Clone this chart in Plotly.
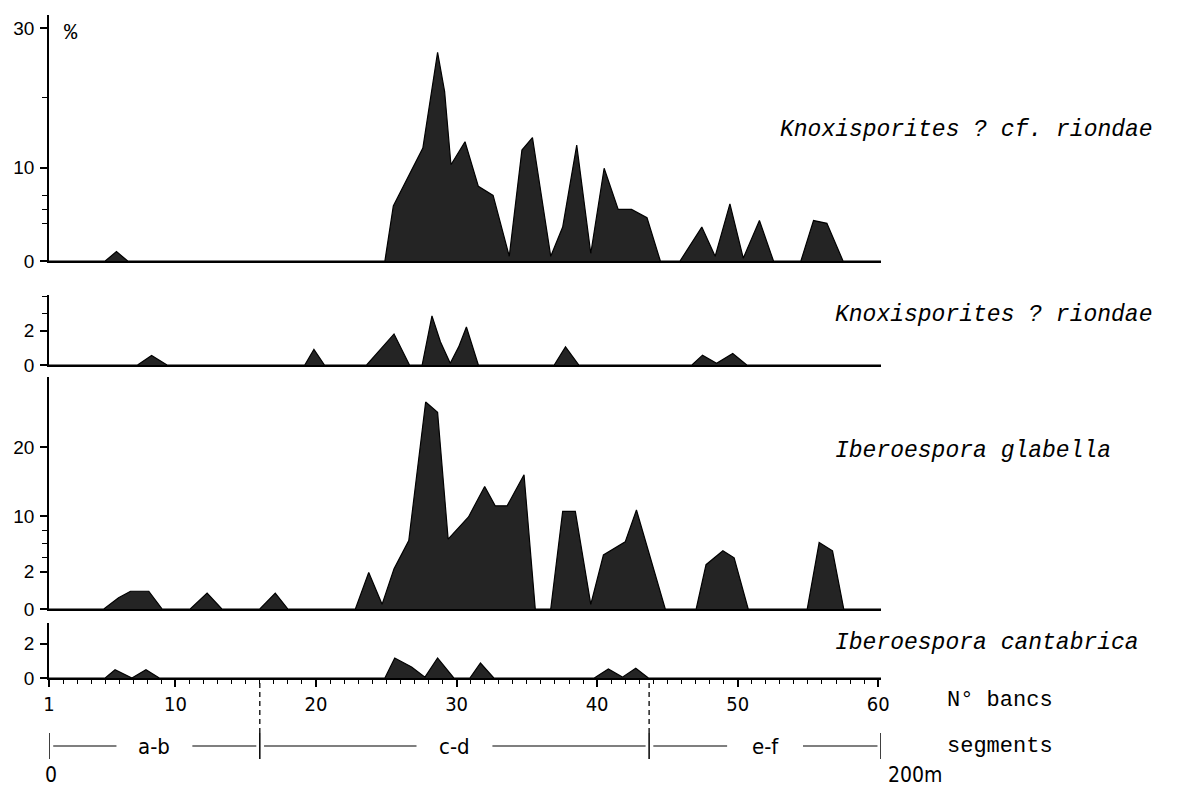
import plotly.graph_objects as go

# ---------------- data (bed number along section, percentage) ----------------
banc_cf_riondae = [1, 5.0, 5.8, 6.6, 24.9, 25.5, 27.6, 28.65, 29.15, 29.6, 30.6, 31.55, 32.6, 33.75,
                   34.65, 35.4, 36.7, 37.55, 38.55, 39.55, 40.5, 41.5, 42.45, 43.55, 44.5, 45.9,
                   47.45, 48.4, 49.45, 50.4, 51.55, 52.55, 54.5, 55.4, 56.35, 57.5, 60.2]
pct_cf_riondae = [0, 0, 0.5, 0, 0, 4.5, 12.8, 26.5, 20.9, 10.4, 13.7, 7.3, 6.0, 0.25,
                  12.5, 14.3, 0.25, 1.8, 13.2, 0.4, 9.9, 4.0, 4.0, 2.8, 0, 0,
                  1.8, 0.25, 4.8, 0.15, 2.4, 0, 0, 2.4, 2.0, 0, 0]

banc_riondae = [1, 7.3, 8.3, 9.4, 19.2, 19.85, 20.6, 23.6, 25.55, 26.65, 27.55, 28.25, 28.85,
                29.55, 30.15, 30.7, 31.55, 36.95, 37.75, 38.7, 46.75, 47.5, 48.5, 49.65, 50.65, 60.2]
pct_riondae = [0, 0, 0.55, 0, 0, 0.9, 0, 0, 1.8, 0, 0, 2.85, 1.35,
               0.1, 1.05, 2.2, 0, 0, 1.05, 0, 0, 0.57, 0.1, 0.67, 0, 0]

banc_glabella = [1, 4.9, 5.95, 6.8, 8.1, 9.05, 11.05, 12.25, 13.3, 16.0, 17.1, 18.0, 22.8, 23.75,
                 24.7, 25.55, 26.6, 27.8, 28.65, 29.4, 30.85, 32.0, 32.75, 33.6, 34.8, 35.6, 36.7,
                 37.55, 38.45, 39.55, 40.45, 42.0, 42.8, 43.65, 44.85, 47.05, 47.75, 48.95, 49.75,
                 50.75, 54.95, 55.8, 56.75, 57.55, 60.2]
pct_glabella = [0, 0, 0.6, 0.95, 0.95, 0, 0, 0.85, 0, 0, 0.85, 0, 0, 1.95,
                0.25, 2.4, 6.5, 26.5, 25.0, 6.7, 9.9, 14.3, 11.5, 11.5, 16.0, 0, 0,
                10.7, 10.7, 0.25, 4.4, 6.3, 10.9, 4.9, 0, 0, 3.0, 5.0, 4.0,
                0, 0, 6.2, 5.0, 0, 0]

banc_cantabrica = [1, 5.0, 5.7, 6.9, 7.9, 8.85, 24.9, 25.6, 26.8, 27.75, 28.65, 29.8, 30.95, 31.7,
                   32.65, 39.8, 40.8, 41.8, 42.75, 43.65, 60.2]
pct_cantabrica = [0, 0, 0.48, 0, 0.48, 0, 0, 1.16, 0.64, 0.05, 1.16, 0, 0, 0.87,
                  0, 0, 0.52, 0.05, 0.56, 0, 0]

species = ["Knoxisporites ? cf. riondae", "Knoxisporites ? riondae",
           "Iberoespora glabella", "Iberoespora cantabrica"]

x_ticks = [1, 10, 20, 30, 40, 50, 60]
segment_bounds = [1, 16, 43.7, 60.2]
segment_labels = ["a-b", "c-d", "e-f"]

# ---------------- layout helpers (screen pixels; page has an 8px body margin) ----------------
OFF = 8
W, H = 1181 - OFF, 789 - OFF
LEFT_PX, RIGHT_PX = 48.6, 881.0


def py(y):  # screen row -> paper y
    return 1 - (y - OFF) / H


def pxp(x):  # screen column -> paper x
    return (x - LEFT_PX) / (RIGHT_PX - LEFT_PX)


K = 2.7  # the 0-2 % band is drawn expanded on the two big panels


def stretch(v):
    return v * K if v <= 2 else 2 * K + (v - 2)


FILL = "#242424"
COND = "DejaVu Sans Condensed, Liberation Sans Narrow, Arial Narrow, Liberation Sans, sans-serif"
TICKFONT = dict(family=COND, size=20, color="black")
HAND = dict(family="Liberation Mono, DejaVu Sans Mono, monospace", size=23, color="black")
TYPE = dict(family="Liberation Mono, Courier New, monospace", size=22, color="black")

fig = go.Figure()

panels = [
    # xs, ys, stretched?, bottom px, top px, px-per-unit, labelled ticks, minor ticks
    (banc_cf_riondae, pct_cf_riondae, True, 261, 15, 6.976, [0, 10, 30], [2, 4, 6, 20]),
    (banc_riondae, pct_riondae, False, 365, 295, 17.25, [0, 2], [3, 4]),
    (banc_glabella, pct_glabella, True, 609, 377, 6.923, [0, 2, 10, 20], [4, 6, 8]),
    (banc_cantabrica, pct_cantabrica, False, 678, 623, 17.25, [0, 2], []),
]

layout_axes = {}
for i, (xs, ys, tr, bot, top, ppu, major, minor) in enumerate(panels, start=1):
    f = stretch if tr else (lambda v: v)
    xa = "x" if i == 1 else f"x{i}"
    ya = "y" if i == 1 else f"y{i}"
    fig.add_trace(go.Scatter(
        x=xs, y=[f(v) for v in ys], xaxis=xa, yaxis=ya, mode="lines",
        fill="tozeroy", fillcolor=FILL, line=dict(color="black", width=1.2),
        hoverinfo="skip", showlegend=False))
    top_units = (bot - top) / ppu
    xkey = "xaxis" if i == 1 else f"xaxis{i}"
    ykey = "yaxis" if i == 1 else f"yaxis{i}"
    last = i == 4
    layout_axes[xkey] = dict(
        domain=[0, 1], anchor=ya, range=[1, 60.2], showgrid=False, zeroline=False,
        showline=True, linecolor="black", linewidth=2,
        tickmode="array", tickvals=x_ticks if last else [],
        ticktext=[str(t) for t in x_ticks] if last else [],
        ticks="outside" if last else "", ticklen=7, tickwidth=1.5, tickcolor="black",
        ticklabelstandoff=0, tickfont=TICKFONT,
        minor=dict(tick0=0, dtick=1, ticks="outside", ticklen=4, tickwidth=1, tickcolor="black") if last else None,
    )
    layout_axes[ykey] = dict(
        domain=[py(bot), py(top)], anchor=xa, range=[0, top_units], showgrid=False, zeroline=False,
        showline=True, linecolor="black", linewidth=1.5,
        tickmode="array", tickvals=[f(v) for v in major], ticktext=[str(v) for v in major],
        ticks="outside", ticklen=7, tickwidth=1.5, tickcolor="black",
        ticklabelstandoff=2, tickfont=dict(family="Liberation Sans", size=19, color="black"),
        minor=dict(tickmode="array", tickvals=[f(v) for v in minor], ticks="outside",
                   ticklen=5, tickwidth=1.2, tickcolor="black"),
    )

fig.update_layout(**layout_axes)

# ---------------- annotations ----------------
ann = []
label_pos = [(778, 130), (833, 315), (833, 451), (833, 643)]
for name, (lx, ly) in zip(species, label_pos):
    ann.append(dict(text=f"<i>{name}</i>", xref="paper", yref="paper", x=pxp(lx), y=py(ly),
                    xanchor="left", yanchor="middle", showarrow=False, font=HAND))
ann.append(dict(text="%", xref="paper", yref="paper", x=pxp(71), y=py(34),
                xanchor="center", yanchor="middle", showarrow=False,
                font=dict(family="Liberation Mono", size=22, color="black")))
ann.append(dict(text="N° bancs", xref="paper", yref="paper", x=pxp(945), y=py(700),
                xanchor="left", yanchor="middle", showarrow=False, font=TYPE))
ann.append(dict(text="segments", xref="paper", yref="paper", x=pxp(945), y=py(746),
                xanchor="left", yanchor="middle", showarrow=False, font=TYPE))
ann.append(dict(text="0", xref="paper", yref="paper", x=pxp(51), y=py(775),
                xanchor="center", yanchor="middle", showarrow=False, font=dict(family=COND, size=21, color="black")))
ann.append(dict(text="200m", xref="paper", yref="paper", x=pxp(915), y=py(775),
                xanchor="center", yanchor="middle", showarrow=False,
                font=dict(family=COND, size=21, color="black")))

seg_y = py(746)
shapes = []
half_gap = 2.7
for j, lab in enumerate(segment_labels):
    a, b = segment_bounds[j], segment_bounds[j + 1]
    mid = (a + b) / 2
    ann.append(dict(text=lab, xref="x4", yref="paper", x=mid, y=seg_y, xanchor="center",
                    yanchor="middle", showarrow=False,
                    font=dict(family=COND, size=22, color="black")))
    shapes.append(dict(type="line", xref="x4", yref="paper", x0=a + 0.3, x1=mid - half_gap,
                       y0=seg_y, y1=seg_y, line=dict(color="black", width=1.2)))
    shapes.append(dict(type="line", xref="x4", yref="paper", x0=mid + half_gap, x1=b - 0.25,
                       y0=seg_y, y1=seg_y, line=dict(color="black", width=1.2)))

for k, bnd in enumerate(segment_bounds):
    shapes.append(dict(type="line", xref="x4", yref="paper", x0=bnd, x1=bnd,
                       y0=py(759), y1=py(733), line=dict(color="black", width=1.5)))
    if 0 < k < len(segment_bounds) - 1:
        shapes.append(dict(type="line", xref="x4", yref="paper", x0=bnd, x1=bnd,
                           y0=py(733), y1=py(679), line=dict(color="black", width=1.3, dash="5px,4px")))

fig.update_layout(
    width=W, height=H, margin=dict(l=LEFT_PX - OFF, r=1181 - RIGHT_PX, t=0, b=0, autoexpand=False),
    paper_bgcolor="white", plot_bgcolor="white", showlegend=False,
    annotations=ann, shapes=shapes,
)

fig.write_html("out.html")
